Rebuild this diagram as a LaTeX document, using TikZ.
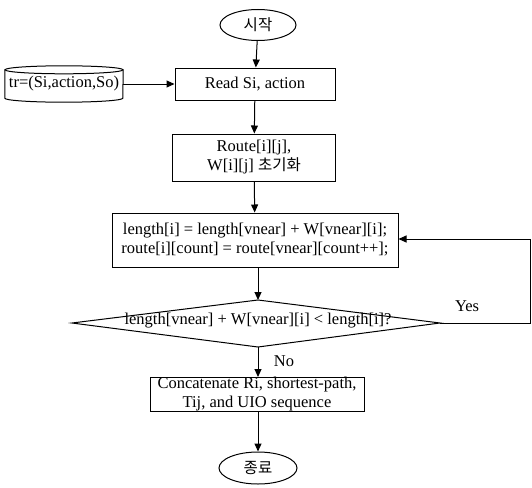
\documentclass[tikz,border=0pt]{standalone}
\usepackage{fontspec}
\setmainfont{Liberation Serif}
\newfontfamily\kor{Noto Sans CJK KR}
\usetikzlibrary{arrows.meta,shapes.geometric,calc}
\begin{document}
\begin{tikzpicture}[x=1pt,y=-1pt,
  every node/.style={font=\fontsize{16.5}{19}\selectfont, inner sep=0pt},
  proc/.style={draw, line width=1pt, rectangle, align=center},
  term/.style={draw, line width=1pt, ellipse},
  conn/.style={draw, line width=1pt, -{Triangle[length=8pt,width=7pt]}},
  lbl/.style={font=\fontsize{16.5}{19}\selectfont}]
\useasboundingbox (0,0) rectangle (532,487);

\node[term, minimum width=76pt, minimum height=31pt] (start) at (258,25) {\kor\fontsize{15.5}{17}\selectfont 시작};
\node[proc, minimum width=160pt, minimum height=32pt] (read) at (255,84) {Read Si, action};
\node[minimum width=118pt, minimum height=36pt] (tr) at (64,84) {tr=(Si,action,So)};
\draw[line width=1pt] ($(tr.north west)+(0,4)$)
  -- ($(tr.south west)+(0,-4)$)
  arc[start angle=180, end angle=360, x radius=59pt, y radius=4pt]
  -- ($(tr.north east)+(0,4)$);
\draw[line width=1pt] ($(tr.north)+(0,4)$) ellipse[x radius=59pt, y radius=4pt];
\node[proc, minimum width=163pt, minimum height=47pt] (route) at (254,157.5) {Route[i][j],\\W[i][j] {\kor\fontsize{15.5}{17}\selectfont 초기화}};
\node[proc, minimum width=286pt, minimum height=54pt] (len) at (255,240) {length[i] = length[vnear] + W[vnear][i];\\route[i][count] = route[vnear][count++];};

\coordinate (dl) at (72,323);
\coordinate (dt) at (258,300);
\coordinate (dr) at (440,323);
\coordinate (db) at (258,347);
\draw[line width=1pt] (dl) -- (dt) -- (dr) -- (db) -- cycle;
\node (dec) at (258,321) {length[vnear] + W[vnear][i] < length[i]?};

\node[proc, minimum width=214pt, minimum height=34pt] (cat) at (257,394.5) {Concatenate Ri, shortest-path,\\Tij, and UIO sequence};
\node[term, minimum width=78pt, minimum height=32pt] (end) at (258,468) {\kor\fontsize{15.5}{17}\selectfont 종료};

\coordinate (yr) at (530,323);
\coordinate (yt) at (530,239);

\draw[conn] (start) -- (read);
\draw[conn] (tr) -- (read);
\draw[conn] (read) -- (route);
\draw[conn] (route) -- (len);
\draw[conn] (len.south -| dt) -- (dt);
\draw[conn] (db) -- (cat.north -| db);
\draw[conn] (cat.south -| end) -- (end);
\draw[conn] (dr) -- (yr) -- (yt) -- (yt -| len.east);

\node[lbl] (yes) at (467,306) {Yes};
\node[lbl] (no) at (284,361) {No};
\end{tikzpicture}
\end{document}
